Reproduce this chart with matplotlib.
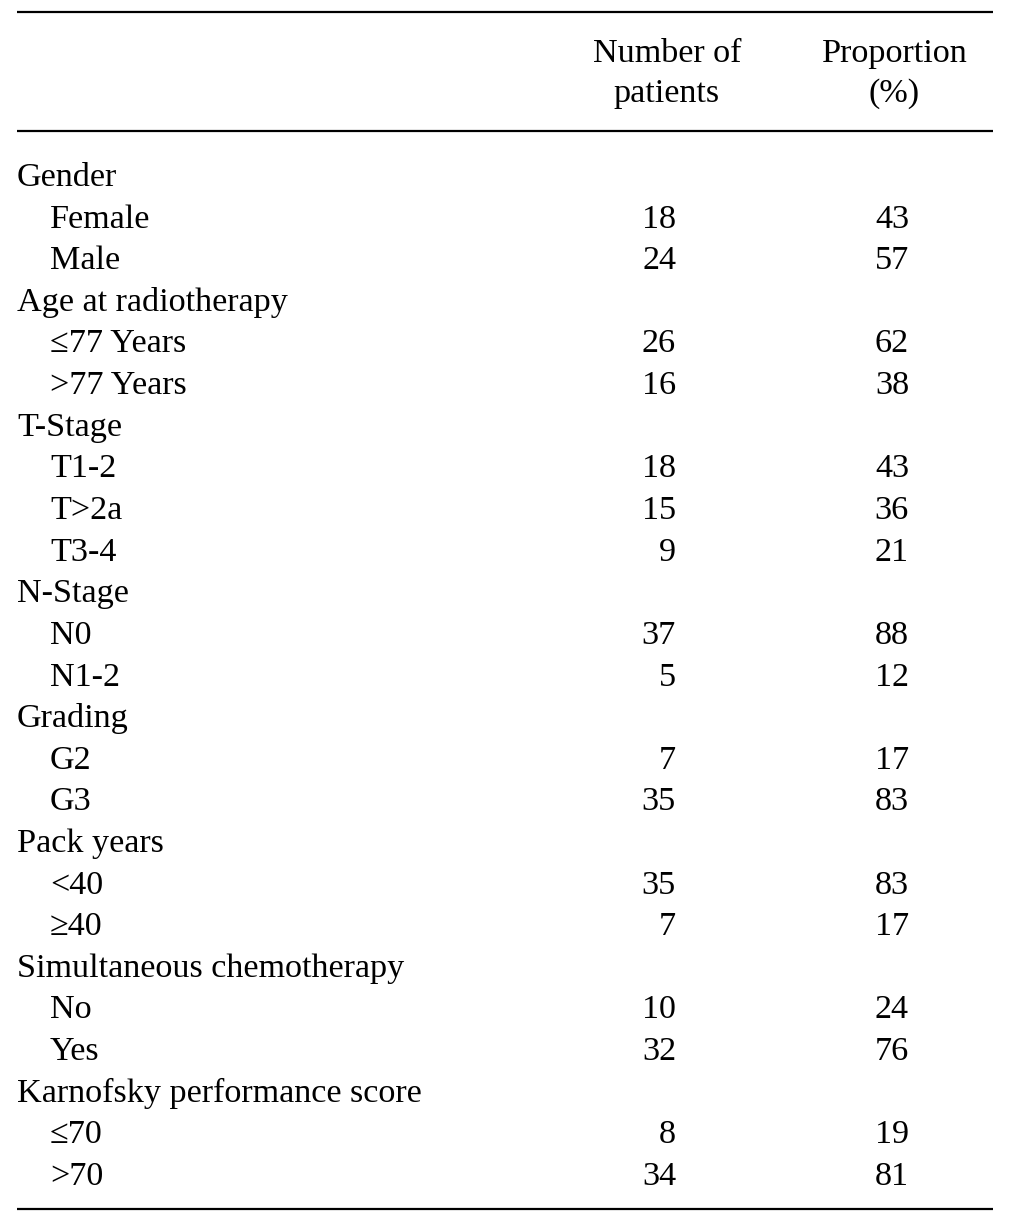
import matplotlib
matplotlib.use("Agg")
import matplotlib.pyplot as plt

labels = ["Gender", "Female", "Male", "Age at radiotherapy", "≤77 Years", ">77 Years",
          "T-Stage", "T1-2", "T>2a", "T3-4", "N-Stage", "N0", "N1-2",
          "Grading", "G2", "G3", "Pack years", "<40", "≥40",
          "Simultaneous chemotherapy", "No", "Yes",
          "Karnofsky performance score", "≤70", ">70"]
is_group = [True, False, False, True, False, False, True, False, False, False,
            True, False, False, True, False, False, True, False, False,
            True, False, False, True, False, False]
n_patients = ["", "18", "24", "", "26", "16", "", "18", "15", "9", "", "37", "5",
              "", "7", "35", "", "35", "7", "", "10", "32", "", "8", "34"]
proportion = ["", "43", "57", "", "62", "38", "", "43", "36", "21", "", "88", "12",
              "", "17", "83", "", "83", "17", "", "24", "76", "", "19", "81"]
col_headers = [["Number of", "patients"], ["Proportion", "(%)"]]

W, H = 1032, 1232
fig = plt.figure(figsize=(W / 100, H / 100), dpi=100)
ax = fig.add_axes([0, 0, 1, 1])
ax.set_xlim(0, W)
ax.set_ylim(H, 0)
ax.axis("off")

font = dict(family="Liberation Serif", fontsize=24.6, color="black")

# rules
for y in (12, 131, 1209):
    ax.plot([17, 993], [y, y], color="black", lw=1.6, solid_capstyle="butt")

# headers
for cx, lines in zip((667, 894.5), col_headers):
    ax.text(cx, 62, lines[0], ha="center", va="baseline", **font)
    ax.text(cx, 102, lines[1], ha="center", va="baseline", **font)

y0, dy = 186, 41.625
for i, (lab, g, n, p) in enumerate(zip(labels, is_group, n_patients, proportion)):
    y = y0 + dy * i
    ax.text(17 if g else 50, y, lab, ha="left", va="baseline", **font)
    if n:
        ax.text(676, y, n, ha="right", va="baseline", **font)
    if p:
        ax.text(909, y, p, ha="right", va="baseline", **font)

fig.savefig("out.png", dpi=100)
